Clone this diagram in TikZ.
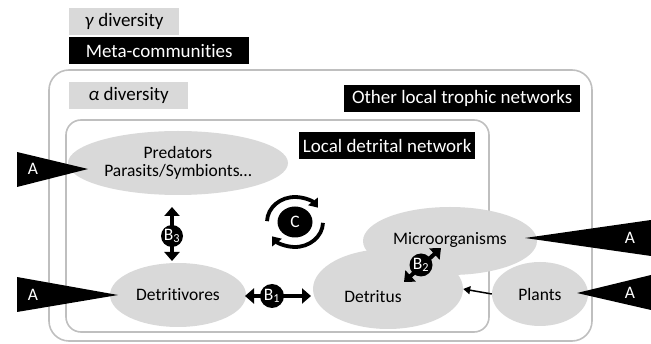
\documentclass[tikz,border=0pt]{standalone}
\usepackage{fontspec}
\setmainfont[Ligatures=NoCommon]{Carlito}
\usetikzlibrary{arrows.meta,shapes.geometric}
\definecolor{lgray}{HTML}{D9D9D9}
\definecolor{fgray}{HTML}{BFBFBF}
\begin{document}
\begin{tikzpicture}[x=1pt,y=-1pt]
\tikzstyle{every node}+=[font=\fontsize{17.5}{20}\selectfont]
\tikzstyle{graybox}=[fill=lgray,inner sep=0pt,anchor=north west,font=\fontsize{19}{21}\selectfont]
\tikzstyle{blackbox}=[fill=black,text=white,inner sep=0pt,anchor=north west,font=\fontsize{19}{21}\selectfont]
\tikzstyle{blob}=[ellipse,fill=lgray,inner sep=0pt,align=center]
\tikzstyle{frame}=[draw=fgray,line width=1.6pt]
\tikzstyle{link}=[line width=4.5pt,{Triangle[length=9pt,width=15pt]}-{Triangle[length=9pt,width=15pt]},shorten <=2pt,shorten >=2pt]
\tikzstyle{badge}=[circle,fill=black,text=white,inner sep=0pt,minimum size=24pt]
\tikzstyle{turn}=[line width=3.8pt,-{Triangle[length=8pt,width=12pt]}]
\useasboundingbox (0,0) rectangle (651,344);
% scales and frames
\node[graybox,minimum width=110pt,minimum height=27pt] (gamma) at (69,8) {\textit{γ} diversity};
\node[blackbox,minimum width=180pt,minimum height=27pt] (meta) at (69,37) {Meta-communities};
\draw[frame,rounded corners=20pt] (49,70) rectangle (592,341);
\node[graybox,minimum width=119pt,minimum height=27pt] (alpha) at (69,82) {\textit{α} diversity};
\node[blackbox,minimum width=236pt,minimum height=27pt] (other) at (344,85) {Other local trophic networks};
\draw[frame,rounded corners=15pt] (66,120) rectangle (489,332);
\node[blackbox,minimum width=176pt,minimum height=27pt] (local) at (299,132) {Local detrital network};
% compartments
\node[blob,minimum width=220pt,minimum height=64pt] (pred) at (178,163) {Predators\\[-2pt]Parasits/Symbionts…};
\node[blob,minimum width=136pt,minimum height=64pt] (dtv) at (178,295) {Detritivores};
\node[blob,minimum width=174pt,minimum height=68pt] (micro) at (450,241) {};
\node[blob,minimum width=150pt,minimum height=80pt] (dts) at (388,289) {};
\node at (450,240) {Microorganisms};
\node at (373,297) {Detritus};
\node[blob,minimum width=96pt,minimum height=64pt] (plants) at (540,294) {Plants};
% external inputs
\fill (88,169) -- (17,152) -- (17,187) -- cycle;
\node[text=white] (a1) at (33,169) {A};
\fill (118,295) -- (17,277) -- (17,312) -- cycle;
\node[text=white] (a2) at (33,295) {A};
\fill (525,238) -- (651,220) -- (651,256) -- cycle;
\node[text=white] (a3) at (630,238) {A};
\fill (577,293) -- (651,275) -- (651,310) -- cycle;
\node[text=white] (a4) at (630,293) {A};
% interactions
\coordinate (b3t) at (172,205);
\coordinate (b3b) at (172,263);
\draw[link] (b3t) -- (b3b);
\node[badge,minimum size=22pt] (b3) at (172,236) {B\textsubscript{3}};
\coordinate (b1l) at (243,296);
\coordinate (b1r) at (313,296);
\draw[link] (b1l) -- (b1r);
\node[badge] (b1) at (272,296) {B\textsubscript{1}};
\coordinate (b2l) at (404,282);
\coordinate (b2r) at (441,248);
\draw[link,line width=4pt,shorten <=0pt,shorten >=0pt] (b2l) -- (b2r);
\node[badge,minimum size=23pt] (b2) at (421,265) {B\textsubscript{2}};
\draw[line width=1.5pt,-{Triangle[length=7pt,width=8pt]}] (plants.west) -- (dts.east);
% cycling
\node[badge,ellipse,minimum width=35pt,minimum height=31pt] (c) at (295,222) {C};
\draw[turn] (c.center) ++(178:28pt and 25pt) arc[start angle=178,end angle=35,x radius=28pt,y radius=25pt];
\draw[turn] (c.center) ++(-2:28pt and 25pt) arc[start angle=-2,end angle=-145,x radius=28pt,y radius=25pt];
\end{tikzpicture}
\end{document}
